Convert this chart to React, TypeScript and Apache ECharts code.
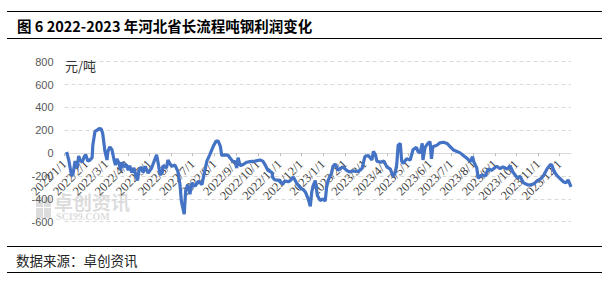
import React, { useEffect, useRef } from "react";
import * as echarts from "echarts";

const titleText = "图 6 2022-2023 年河北省长流程吨钢利润变化";
const sourceText = "数据来源：卓创资讯";
const unitText = "元/吨";

const yMin = -600;
const yMax = 800;
const yStep = 200;

const firstDay = "2022/1/1";
const lastDay = "2023/12/17";

const dates2022 = [
  "2022/1/4", "2022/1/7", "2022/1/11", "2022/1/13", "2022/1/16", "2022/1/19", "2022/1/21", "2022/1/23",
  "2022/1/26", "2022/1/29", "2022/1/31", "2022/2/3", "2022/2/6", "2022/2/9", "2022/2/10", "2022/2/13",
  "2022/2/16", "2022/2/19", "2022/2/22", "2022/2/24", "2022/2/27", "2022/3/2", "2022/3/3", "2022/3/6",
  "2022/3/9", "2022/3/12", "2022/3/14", "2022/3/16", "2022/3/19", "2022/3/21", "2022/3/23", "2022/3/26",
  "2022/3/29", "2022/4/1", "2022/4/3", "2022/4/6", "2022/4/9", "2022/4/12", "2022/4/14", "2022/4/16",
  "2022/4/19", "2022/4/22", "2022/4/25", "2022/4/29", "2022/5/4", "2022/5/7", "2022/5/11", "2022/5/13",
  "2022/5/16", "2022/5/19", "2022/5/20", "2022/5/25", "2022/5/27", "2022/6/1", "2022/6/6", "2022/6/10",
  "2022/6/13", "2022/6/15", "2022/6/17", "2022/6/19", "2022/6/21", "2022/6/24", "2022/6/27", "2022/6/30",
  "2022/7/4", "2022/7/9", "2022/7/14", "2022/7/18", "2022/7/21", "2022/7/25", "2022/7/30", "2022/8/3",
  "2022/8/6", "2022/8/9", "2022/8/11", "2022/8/16", "2022/8/20", "2022/8/23", "2022/8/27", "2022/8/30",
  "2022/9/1", "2022/9/3", "2022/9/6", "2022/9/10", "2022/9/15", "2022/9/20", "2022/9/27", "2022/10/4",
  "2022/10/8", "2022/10/11", "2022/10/15", "2022/10/21", "2022/10/22", "2022/10/25", "2022/10/30", "2022/11/4",
  "2022/11/8", "2022/11/13", "2022/11/15", "2022/11/20", "2022/11/25", "2022/11/30", "2022/12/4", "2022/12/7",
  "2022/12/11", "2022/12/14", "2022/12/16", "2022/12/18", "2022/12/21", "2022/12/24", "2022/12/28",
];
const profit2022 = [
  10, -60, -200, -180, -70, -130, -25, -60,
  -80, -30, -15, -70, -60, -40, 70, 190,
  200, 215, 210, 170, 20, -60, 10, 55,
  30, -60, -105, -50, -90, -150, -80, -120,
  -100, -150, -110, -170, -130, -200, -240, -160,
  -120, -170, -115, -175, -130, -80, -15, -80,
  -190, -170, -110, -130, -60, -115, -105, -160,
  -275, -420, -480, -535, -330, -275, -360, -260,
  -290, -245, -275, -155, -70, -15, 60, 105,
  105, 60, -20, -15, -20, -45, -75, -75,
  -130, -40, -110, -100, -80, -75, -70, -60,
  -70, -100, -150, -170, -215, -235, -235, -270,
  -245, -250, -245, -210, -265, -305, -320, -340,
  -400, -465, -340, -285, -240, -370, -415,
];

const dates2023 = [
  "2023/1/1", "2023/1/4", "2023/1/6", "2023/1/8", "2023/1/11", "2023/1/13", "2023/1/15", "2023/1/18",
  "2023/1/22", "2023/1/29", "2023/2/4", "2023/2/8", "2023/2/12", "2023/2/19", "2023/2/25", "2023/3/1",
  "2023/3/6", "2023/3/11", "2023/3/13", "2023/3/16", "2023/3/18", "2023/3/23", "2023/3/28", "2023/4/1",
  "2023/4/6", "2023/4/10", "2023/4/13", "2023/4/15", "2023/4/17", "2023/4/20", "2023/4/22", "2023/4/24",
  "2023/4/29", "2023/5/4", "2023/5/8", "2023/5/13", "2023/5/15", "2023/5/18", "2023/5/21", "2023/5/22",
  "2023/5/25", "2023/5/29", "2023/6/1", "2023/6/3", "2023/6/5", "2023/6/11", "2023/6/15", "2023/6/20",
  "2023/6/25", "2023/6/29", "2023/7/4", "2023/7/9", "2023/7/14", "2023/7/18", "2023/7/23", "2023/7/28",
  "2023/7/31", "2023/8/2", "2023/8/6", "2023/8/8", "2023/8/13", "2023/8/18", "2023/8/22", "2023/8/27",
  "2023/9/3", "2023/9/8", "2023/9/12", "2023/9/18", "2023/9/22", "2023/9/26", "2023/10/2", "2023/10/6",
  "2023/10/11", "2023/10/16", "2023/10/20", "2023/10/25", "2023/10/30", "2023/11/4", "2023/11/8", "2023/11/13",
  "2023/11/18", "2023/11/20", "2023/11/22", "2023/11/27", "2023/12/2", "2023/12/6", "2023/12/10", "2023/12/13",
  "2023/12/17",
];
const profit2023 = [
  -400, -420, -300, -240, -200, -175, -115, -95,
  -150, -120, -155, -165, -155, -162, -135, -30,
  -20, -60, 15, -15, -70, -80, -70, -120,
  -140, -205, -170, -100, 70, 85, -70, -90,
  -50, -60, 30, 50, 15, 0, 85, -60,
  50, 85, 100, -50, 55, 70, 90, 95,
  85, 60, 28, 15, 0, -20, -45, -75,
  -30, -80, -130, -220, -190, -200, -140, -150,
  -115, -135, -120, -140, -110, -165, -215, -205,
  -260, -275, -280, -270, -245, -225, -200, -140,
  -100, -105, -150, -195, -225, -250, -260, -235,
  -295,
];

function buildDays(from: string, to: string): string[] {
  const [fy, fm, fd] = from.split("/").map(Number);
  const [ty, tm, td] = to.split("/").map(Number);
  const out: string[] = [];
  let t = Date.UTC(fy, fm - 1, fd);
  const end = Date.UTC(ty, tm - 1, td);
  while (t <= end) {
    const d = new Date(t);
    out.push(`${d.getUTCFullYear()}/${d.getUTCMonth() + 1}/${d.getUTCDate()}`);
    t += 86400000;
  }
  return out;
}

const isMonthStart = (_i: number, v: string) => v.split("/")[2] === "1";

const GRID_TOP = 61.7;
const GRID_BOTTOM_Y = 221.7;

export default function App() {
  const ref = useRef<HTMLDivElement>(null);
  useEffect(() => {
    if (!ref.current) return;
    const chart = echarts.init(ref.current, undefined, { renderer: "svg" });
    const days = buildDays(firstDay, lastDay);
    const dates = [...dates2022, ...dates2023];
    const profit = [...profit2022, ...profit2023];
    const seriesData = dates.map((d, i) => [d, profit[i]]);
    const zeroY = GRID_TOP + ((yMax - 0) / (yMax - yMin)) * (GRID_BOTTOM_Y - GRID_TOP);
    const wm = "rgba(185,185,185,0.5)";
    chart.setOption({
      animation: false,
      backgroundColor: "#ffffff",
      grid: { left: 64.5, right: 37, top: GRID_TOP, bottom: 281 - GRID_BOTTOM_Y, containLabel: false },
      xAxis: {
        type: "category",
        data: days,
        boundaryGap: false,
        position: "bottom",
        offset: -(GRID_BOTTOM_Y - zeroY),
        axisLine: { onZero: false, lineStyle: { color: "#d9d9d9", width: 1 } },
        axisTick: { show: true, interval: isMonthStart, length: 3, lineStyle: { color: "#bfbfbf" } },
        axisLabel: {
          interval: isMonthStart,
          rotate: 45,
          margin: 9,
          fontFamily: "Liberation Serif",
          fontSize: 12.5,
          color: "#404040",
        },
        splitLine: { show: false },
      },
      yAxis: {
        type: "value",
        min: yMin,
        max: yMax,
        interval: yStep,
        axisLine: { show: false },
        axisTick: { show: false },
        axisLabel: { fontFamily: "Liberation Sans", fontSize: 11, color: "#595959", margin: 11 },
        splitLine: { lineStyle: { color: "#d9d9d9", type: [4, 3], width: 1 } },
      },
      series: [
        {
          type: "line",
          data: seriesData,
          showSymbol: false,
          symbol: "none",
          lineStyle: { color: "#4472C4", width: 3.2 },
          z: 5,
        },
      ],
      graphic: [
        { type: "line", shape: { x1: 7, y1: 11.5, x2: 602, y2: 11.5 }, style: { stroke: "#000", lineWidth: 1 } },
        { type: "line", shape: { x1: 7, y1: 38.5, x2: 602, y2: 38.5 }, style: { stroke: "#000", lineWidth: 1 } },
        { type: "line", shape: { x1: 7, y1: 246.5, x2: 602, y2: 246.5 }, style: { stroke: "#000", lineWidth: 1 } },
        { type: "line", shape: { x1: 7, y1: 272.5, x2: 602, y2: 272.5 }, style: { stroke: "#000", lineWidth: 1 } },
        {
          type: "text",
          x: 17,
          y: 25.5,
          style: {
            text: titleText,
            font: "bold 14.5px 'Noto Sans CJK SC'",
            fill: "#000",
            textAlign: "left",
            textVerticalAlign: "middle",
          },
        },
        {
          type: "text",
          x: 16,
          y: 260,
          style: {
            text: sourceText,
            font: "13.5px 'Noto Sans CJK SC'",
            fill: "#222",
            textAlign: "left",
            textVerticalAlign: "middle",
          },
        },
        {
          type: "text",
          x: 65,
          y: 65,
          z: 10,
          style: {
            text: unitText,
            font: "13px 'Noto Sans CJK SC'",
            fill: "#333",
            textAlign: "left",
            textVerticalAlign: "middle",
          },
        },
        { type: "rect", z: -10, shape: { x: 36, y: 197, width: 7, height: 10 }, style: { fill: wm } },
        { type: "rect", z: -10, shape: { x: 44, y: 197, width: 7, height: 10 }, style: { fill: wm } },
        { type: "rect", z: -10, shape: { x: 36, y: 208, width: 7, height: 10 }, style: { fill: wm } },
        { type: "rect", z: -10, shape: { x: 44, y: 208, width: 7, height: 10 }, style: { fill: wm } },
        {
          type: "text",
          z: -10,
          x: 54,
          y: 192,
          style: {
            text: "卓创资讯",
            font: "bold 19px 'Noto Sans CJK SC'",
            fill: wm,
            textAlign: "left",
            textVerticalAlign: "top",
          },
        },
        {
          type: "text",
          z: -10,
          x: 56,
          y: 211.5,
          style: {
            text: "SCI99.COM",
            font: "bold 10px 'Liberation Serif'",
            fill: wm,
            textAlign: "left",
            textVerticalAlign: "top",
          },
        },
      ],
    });
    return () => chart.dispose();
  }, []);
  return (
    <div
      ref={ref}
      style={{ position: "fixed", left: 0, top: 0, width: 608, height: 281, background: "#fff" }}
    />
  );
}
